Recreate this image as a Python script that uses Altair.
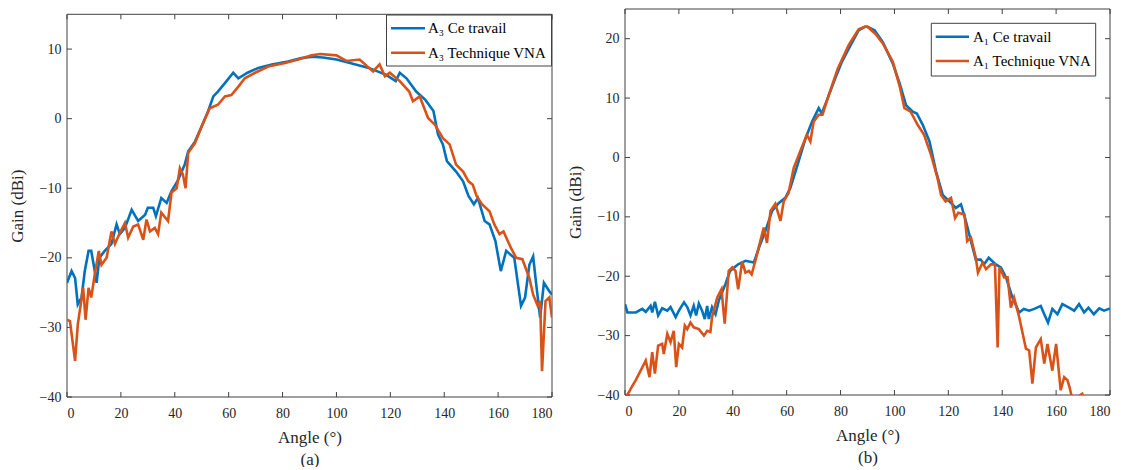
import altair as alt
import pandas as pd

# ---------------- data ----------------
series_a = ["A\u2083 Ce travail", "A\u2083 Technique VNA"]
series_b = ["A\u2081 Ce travail", "A\u2081 Technique VNA"]
colors = ["#0072BD", "#D95319"]

a3_ce_angle = [0, 1.7, 3, 4, 5.4, 6.6, 8, 9, 10.3, 11, 12, 14, 16.5, 18.4, 19.6, 21.5, 24, 26.4, 29, 30,
               32, 33, 35, 37, 38.8, 41, 43.7, 45, 47.5, 50, 52.4, 54.3, 56, 58.6, 61.7, 63.6, 67, 71, 76, 82,
               87, 91, 95, 100, 105, 112, 118.5, 122, 123.5, 126, 129.6, 133, 136, 137.7, 139.5, 141, 144.4,
               147, 149, 151, 152.5, 155, 156.8, 159, 161, 163, 166, 168.5, 170, 171.6, 173, 174, 175.6, 177,
               179, 180]
a3_ce_gain = [-23.6, -21.9, -22.9, -26.7, -25.7, -21.9, -19, -19, -21.9, -23.6, -20, -19, -18, -15.2, -16.6,
              -15.7, -13.1, -14.7, -13.8, -12.8, -12.8, -14, -11.4, -12.1, -10.4, -9, -6.6, -4.7, -3.3, -1.1,
              1.1, 3.2, 3.9, 5.1, 6.6, 5.8, 6.6, 7.3, 7.8, 8.2, 8.7, 8.9, 8.8, 8.5, 8, 7.3, 6.3, 5.4, 6.6, 5.8,
              3.9, 2.7, 1.1, -2.3, -3.7, -6.1, -7.6, -9, -11.1, -12.3, -11.4, -14.7, -15.2, -17.6, -21.9, -19,
              -20, -26.9, -25.7, -21, -19.8, -23.3, -28.6, -23.6, -24.8, -25.3]

a3_vna_angle = [0, 1.1, 3, 4, 6, 6.9, 8, 9, 10.3, 11.8, 12.8, 14.7, 16.5, 17.8, 19.6, 21.5, 22.7, 24.6, 26.4,
                28.3, 29.5, 30.8, 32.6, 33.8, 35, 37.5, 38.8, 40.7, 41.9, 43, 44, 45, 47.5, 50, 53, 56, 58.6,
                61, 63.6, 66, 69.8, 74.7, 80.9, 85.8, 90.8, 94, 100, 103.7, 108.6, 113.6, 116, 118, 119.8,
                123.5, 127, 128.4, 130.9, 134, 136.6, 139.5, 142, 144.4, 147, 149, 150.6, 152, 154, 156.8,
                158.6, 160.5, 162, 164.8, 166.7, 169, 171.6, 173, 174.7, 175.6, 176.3, 177.6, 179, 180]
a3_vna_gain = [-28.9, -29.1, -34.8, -29.6, -24.3, -28.9, -24.3, -25.7, -22.4, -19, -21, -20, -16.2, -18, -16.4,
               -15, -17.1, -15.5, -15.2, -17.4, -14.5, -16.2, -15.7, -16.6, -13.5, -14.7, -10.6, -10, -7.1, -8,
               -10, -4.9, -3.5, -1.1, 1.5, 2, 3.2, 3.4, 4.6, 5.8, 6.6, 7.5, 8, 8.5, 9.1, 9.3, 9.1, 8.3, 8.5,
               6.8, 7.8, 6.1, 6.6, 5.4, 3.9, 2.5, 3.2, 0.1, -0.9, -2.8, -3.7, -6.6, -7.6, -9, -9.5, -11.1,
               -12.3, -13.3, -15.2, -16.6, -16.2, -18.6, -20, -20.2, -22.9, -25.3, -26.9, -26.2, -36.3, -26.2,
               -25.7, -28.6]

a1_ce_angle = [0, 0.9, 4, 6.4, 7.7, 9.5, 10.1, 11.1, 12.3, 13.8, 15.7, 16.9, 18.8, 20, 21.9, 23.1, 24.3, 25.5,
               26.4, 27.4, 28.6, 29.6, 30.5, 31.1, 32.3, 33.6, 34.8, 37.3, 39, 42, 44.7, 47.8, 50.2, 52.1, 54.6,
               57, 59.5, 61.4, 64.4, 67, 69.4, 71.9, 73, 75, 78, 80.5, 83, 86.7, 89, 90, 92.6, 95.7, 99.4,
               101.9, 104.3, 106.8, 108.3, 110.5, 113, 115.4, 117.9, 120.4, 122.8, 124.7, 126.5, 128.4, 130.2,
               132, 133.3, 135, 137.6, 139.5, 141.4, 143.8, 146.3, 148, 150, 151.9, 154.3, 155.6, 157, 158.6,
               160.5, 162.3, 164.8, 166.7, 168.5, 170.4, 172, 174, 176, 177.8, 179.6, 180]
a1_ce_gain = [-24.7, -26.1, -26.1, -25.5, -26, -25, -26.1, -24.3, -26.6, -25.4, -25.8, -25.2, -26.9, -25.8,
              -24.4, -25.2, -26.6, -25, -26.6, -24.6, -25.8, -27.2, -25, -27.2, -25.2, -26.4, -24.1, -21.3,
              -19.1, -18, -17.4, -17.7, -14.6, -12.4, -9, -7.7, -6.8, -5.1, -0.7, 3.2, 6, 8.3, 7.4, 9.7, 13.3,
              16.1, 18.3, 21.4, 22, 22, 21.4, 19.4, 15.8, 12.5, 8.8, 7.7, 7.4, 5.5, 2.7, -2.3, -6.3, -7.4,
              -8.5, -7.9, -10.7, -14.1, -17.2, -17.2, -18, -16.9, -18, -18.5, -20.2, -23.6, -26.1, -25.5,
              -25.8, -25.5, -25, -26.4, -27.8, -25.5, -26.4, -24.7, -25.3, -25.8, -24.7, -26.1, -25.3, -26.4,
              -25.4, -25.8, -25.5, -25.6]

a1_vna_angle = [0, 1.5, 2.2, 4, 5.8, 7.7, 9.1, 10.1, 11.1, 12.3, 13.8, 14.4, 15.7, 16.9, 18.1, 19, 20, 21.2,
                22.2, 23.1, 24.3, 25.5, 27.4, 29.3, 30.5, 31.7, 32.3, 34.2, 35.8, 37, 38.5, 39.8, 41, 42, 43.5,
                44.7, 46, 47, 48.4, 50.2, 51.5, 52.7, 54, 55.8, 57.7, 58.9, 60.7, 62.6, 65, 67.5, 68.8, 70,
                71.9, 73.3, 75.6, 79, 83, 86.7, 89, 90, 93, 95.7, 99.4, 102, 103.7, 106, 108.6, 111, 113.6, 116,
                117.3, 119, 121, 122.5, 123.7, 126, 127, 128.4, 130.2, 131, 132.7, 134, 135.8, 137.3, 138.3,
                139, 140.7, 142, 143.2, 144.4, 146.3, 148.8, 150, 151.2, 152.5, 154.3, 155.6, 156.8, 158.6,
                160, 161.7, 163, 164.2, 165, 166, 168, 169.7, 171, 175, 180]
a1_vna_gain = [-40.5, -39.5, -38.9, -37.5, -35.9, -34.2, -37, -32.8, -36.4, -31.7, -31.4, -33.1, -29.7, -31.1,
               -29.2, -35.3, -31.4, -32, -28.3, -28.9, -27.8, -28.6, -28.9, -30, -29.2, -29.4, -26.9, -23.6,
               -22.2, -28, -19.1, -18.5, -19.1, -22.2, -17.5, -19.4, -19.1, -19.7, -17.4, -14.1, -11.8, -14.4,
               -9, -7.8, -10.7, -7.4, -6, -1.8, 1, 3.8, 2.7, 6, 7.2, 7.2, 10.5, 15, 18.9, 21.6, 22, 22, 20.8,
               19.2, 16.1, 11.9, 8.3, 7.7, 5.5, 3.8, 0.4, -3.5, -6.3, -7.4, -6.8, -10.2, -9.3, -9.6, -14.1,
               -13.5, -16.9, -19.4, -17.7, -18.8, -18, -18, -32, -18.5, -20.2, -20.2, -25.3, -23.6, -26.9,
               -32.2, -32.5, -38.1, -32, -30.6, -34.7, -31.4, -35.9, -31.4, -39.2, -37, -37.5, -38.7, -40.7,
               -40.3, -39.8, -42, -44, -45]

x_ticks = [0, 20, 40, 60, 80, 100, 120, 140, 160, 180]
y_ticks_a = [-40, -30, -20, -10, 0, 10]
y_ticks_b = [-40, -30, -20, -10, 0, 10, 20]

FONT = "Liberation Serif"
W = 485
TK = 5
AX = "#404040"


def frame(names, xs_list, ys_list):
    rows = []
    for name, xs, ys in zip(names, xs_list, ys_list):
        for i, (a, g) in enumerate(zip(xs, ys)):
            rows.append({"series": name, "angle": a, "gain": g, "i": i})
    return pd.DataFrame(rows)


def panel(df, names, y_dom, y_ticks, letter, h, top, leg):
    # top: pixel row of the plot-area top inside the panel; leg: legend geometry
    xs = alt.Scale(domain=[0, 180], nice=False)
    ys = alt.Scale(domain=y_dom, nice=False, range=[h, top])
    xaxis = alt.Axis(values=x_ticks, grid=False, ticks=False, domain=False, labelPadding=9,
                     title=["Angle (\u00b0)", letter], titlePadding=9)
    yaxis = alt.Axis(values=y_ticks, grid=False, ticks=False, domain=False, labelPadding=6,
                     title="Gain (dBi)", titlePadding=13)

    def X(f):
        return alt.X(f, type="quantitative", scale=xs, axis=xaxis)

    def Y(f):
        return alt.Y(f, type="quantitative", scale=ys, axis=yaxis)

    lines = alt.Chart(df).mark_line(strokeWidth=2.6, clip=True).encode(
        x=X("angle"), y=Y("gain"), order="i:Q",
        color=alt.Color("series:N", scale=alt.Scale(domain=names, range=colors), legend=None))
    xt = pd.DataFrame({"angle": x_ticks})
    yt = pd.DataFrame({"gain": y_ticks})
    one = pd.DataFrame({"k": [0]})
    box = alt.Chart(one).mark_rect(fill=None, stroke=AX, strokeWidth=1).encode(
        x=alt.value(0), x2=alt.value(W), y=alt.value(top), y2=alt.value(h))
    bottom = alt.Chart(xt).mark_rule(color=AX).encode(x=X("angle"), y=alt.value(h), y2=alt.value(h - TK))
    topt = alt.Chart(xt).mark_rule(color=AX).encode(x=X("angle"), y=alt.value(top), y2=alt.value(top + TK))
    left = alt.Chart(yt).mark_rule(color=AX).encode(y=Y("gain"), x=alt.value(0), x2=alt.value(TK))
    right = alt.Chart(yt).mark_rule(color=AX).encode(y=Y("gain"), x=alt.value(W), x2=alt.value(W - TK))

    bx0, by0, bx1, by1, lx0, lx1, r1, r2, tx = leg
    lbox = alt.Chart(one).mark_rect(fill="white", stroke=AX, strokeWidth=1).encode(
        x=alt.value(bx0), x2=alt.value(bx1), y=alt.value(by0), y2=alt.value(by1))
    layers = [box, bottom, topt, left, right, lines, lbox]
    for name, col, ry in zip(names, colors, [r1, r2]):
        layers.append(alt.Chart(one).mark_rule(color=col, strokeWidth=2.6).encode(
            x=alt.value(lx0), x2=alt.value(lx1), y=alt.value(ry)))
        layers.append(alt.Chart(pd.DataFrame({"t": [name]})).mark_text(
            font=FONT, fontSize=15, color="black", align="left", baseline="middle").encode(
            text="t:N", x=alt.value(tx), y=alt.value(ry)))
    return alt.layer(*layers).properties(width=W, height=h, view=alt.ViewBackground(stroke=None))


df_a = frame(series_a, [a3_ce_angle, a3_vna_angle], [a3_ce_gain, a3_vna_gain])
df_b = frame(series_b, [a1_ce_angle, a1_vna_angle], [a1_ce_gain, a1_vna_gain])

# legend geometry (panel pixels): box x0,y0,x1,y1, line x0,x1, row1 y, row2 y, text x
pa = panel(df_a, series_a, [-40, 15], y_ticks_a, "(a)", 388, 5.3,
           (319.5, 6, 484.5, 57, 324, 358, 19.3, 43.7, 361))
pb = panel(df_b, series_b, [-40, 25], y_ticks_b, "(b)", 386, 0,
           (306.3, 14.3, 470.7, 67, 310.7, 344, 27.7, 52, 348))

chart = alt.hconcat(pa, pb, spacing=13).properties(
    background="white", padding={"left": 0, "top": 0, "right": 0, "bottom": 0}).configure_axis(
    labelFont=FONT, labelFontSize=14, labelColor="#262626", titleFont=FONT, titleFontSize=17,
    titleFontWeight="normal", titleColor="#262626", titleLineHeight=22)

chart.save("out.html", embed_options={"renderer": "svg", "actions": False})
